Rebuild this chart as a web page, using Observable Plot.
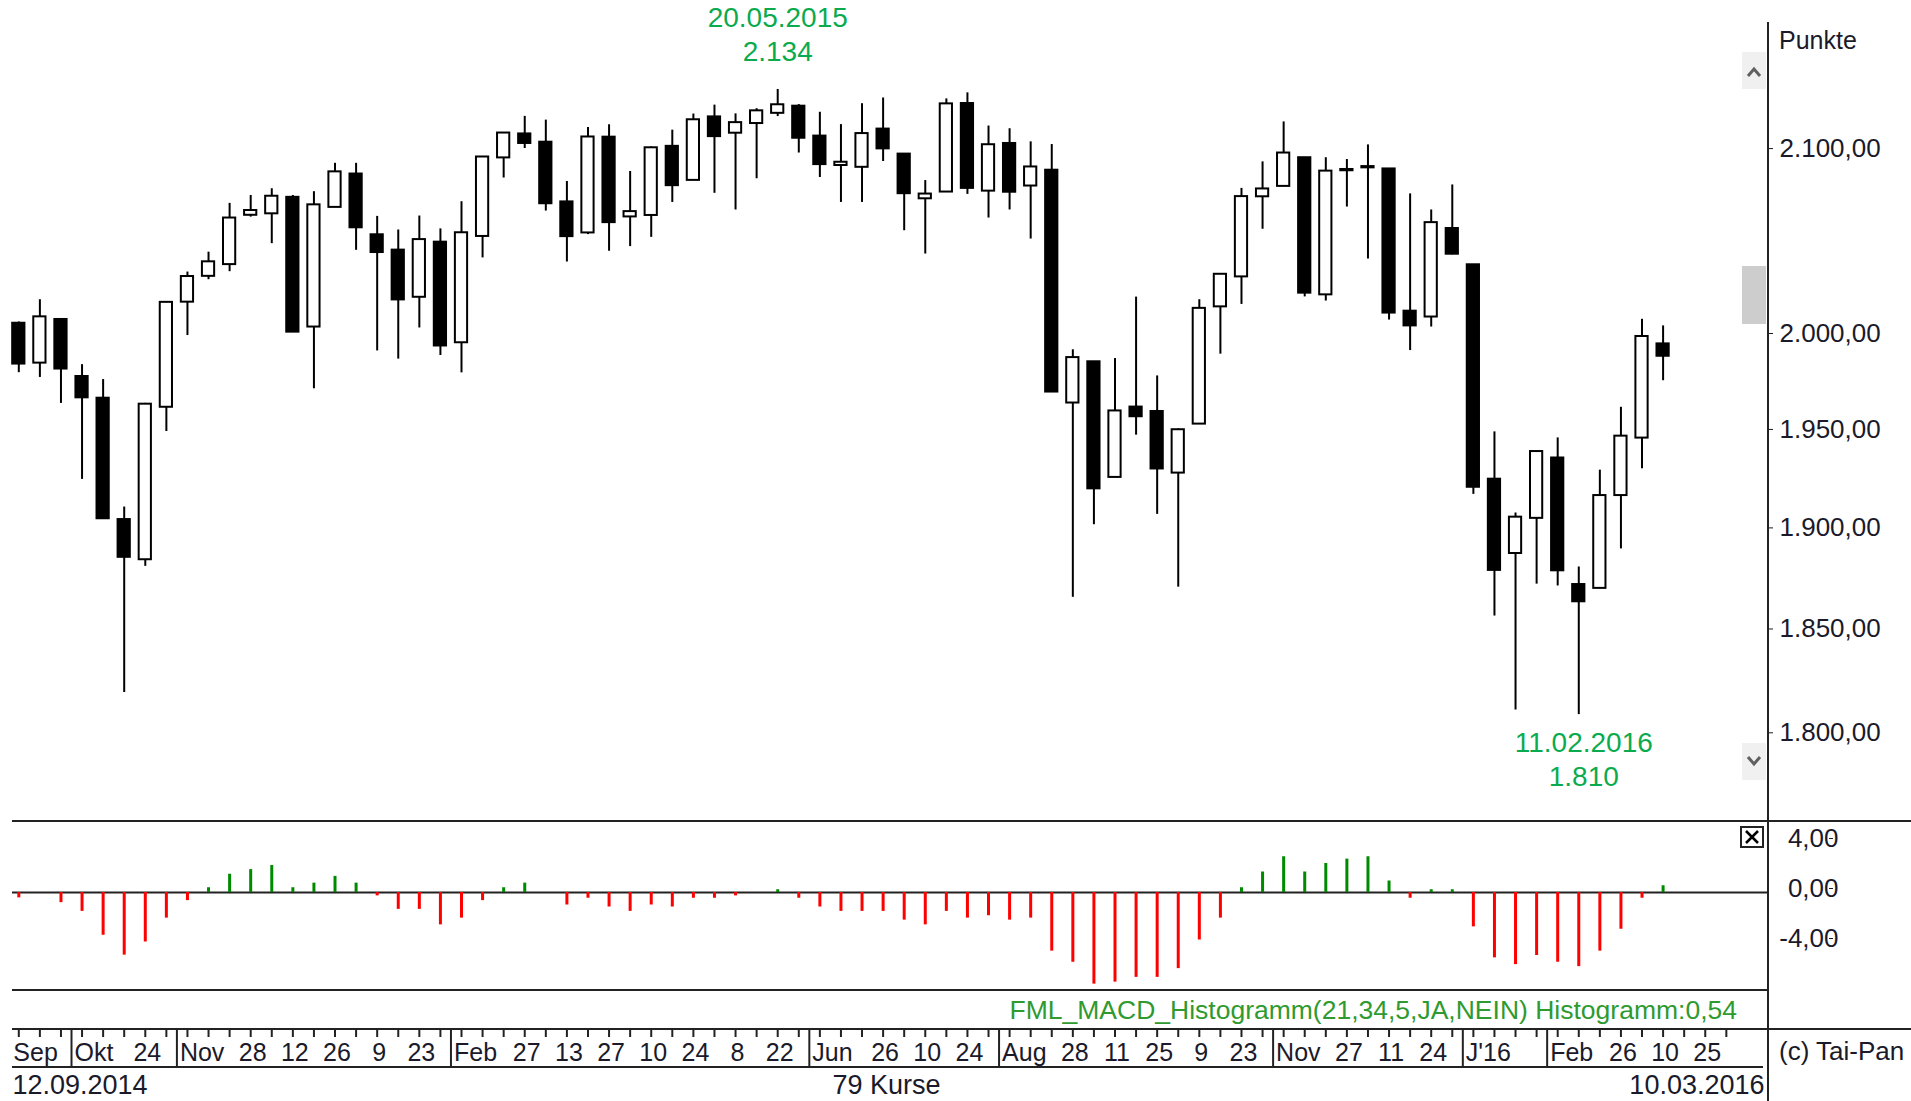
<!DOCTYPE html>
<html><head><meta charset="utf-8">
<script src="https://cdn.jsdelivr.net/npm/d3@7"></script>
<script src="https://cdn.jsdelivr.net/npm/@observablehq/plot@0.6"></script>
<style>
html,body{margin:0;padding:0;background:#fff;}
#root{position:relative;width:1911px;height:1101px;overflow:hidden;background:#fff;font-family:"Liberation Sans",Arial,sans-serif;}
#root > div{position:absolute;left:0;}
#root svg{display:block;overflow:visible;}
</style></head><body><div id="root"></div>
<script>
// ---- weekly candles (S&P style index), 12.09.2014 .. 10.03.2016 ----
const openP = [2007,1986,2009,1979,1967.7,1905.7,1885.6,1963,2018.2,2032,
  2038.3,2065,2065.8,2074.8,2005,2069.3,2087.6,2054.4,2046.1,2020.8,
  2050.4,1996.7,2053.5,2096.5,2109.8,2105.2,2072.3,2055.4,2108,2064.1,
  2064.9,2102.9,2084.1,2119.3,2110.2,2115.6,2121.3,2125.3,2108.6,2092.3,
  2091.3,2112.5,2098.6,2074,2077.7,2126.8,2078.2,2104.5,2081,2089.7,
  1965.2,1986.7,1927,1963.1,1960.8,1929.2,1954.3,2015.7,2031.7,2075.1,
  2080.8,2096.6,2022.1,2089.4,2091,2090.4,2013.4,2010.3,2057.8,2038.2,
  1926.1,1888.7,1906.3,1936.9,1873.3,1871.4,1917.8,1947.1,1996.1];
const highP = [2007.7,2019.5,2009.5,1985.2,1977.4,1912,1965,2018.2,2034.3,2045,
  2071.5,2075.8,2079.5,2075.8,2077.9,2093.5,2093.5,2064.4,2057,2064.6,
  2057.6,2072.4,2097,2110.6,2119.6,2117.5,2083.5,2113.4,2114.9,2089,
  2102.6,2111.9,2120.9,2125.9,2121,2123.9,2134.7,2126.2,2121.9,2115,
  2126.7,2129.9,2098.6,2084,2129.4,2132.8,2114.2,2112.7,2105.4,2103.9,
  1993,1986.7,1988.4,2020.9,1979.3,1951.8,2019.5,2033.5,2079.7,2094.3,
  2116.5,2096.6,2096.6,2095.6,2103.7,2090.4,2076.7,2067.9,2081.6,2038.2,
  1950.3,1909,1940.2,1947.2,1882,1930.7,1963,2009.1,2005.6];
const lowP = [1981,1978.5,1965,1926,1906,1820.7,1882.3,1950.5,2000.5,2030.2,
  2034.5,2064,2049.6,2002.3,1972.6,2069.3,2046,1992.4,1988.1,2004.5,
  1990,1980.9,2041.9,2085.4,2101.7,2067.3,2039.7,2054.5,2045.5,2048,
  2053,2072,2084,2077,2067.9,2085,2119.5,2099.2,2085.7,2072,
  2072,2094.5,2056.6,2044,2077.7,2076.4,2063.5,2067.9,2052.1,1970.9,
  1867,1903.1,1927,1948.6,1908.3,1872,1954.3,1990.7,2017,2057.4,
  2080.8,2021,2018.8,2069.5,2041.3,2008.7,1992.6,2005,2043.6,1918.4,
  1857.8,1812.3,1873.5,1872.6,1810.1,1871.4,1891,1931.4,1976.8];
const closeP = [1985.5,2010.4,1982.9,1967.9,1906.1,1886.8,1964.6,2018.1,2031.9,2039.8,
  2063.5,2067.6,2075.4,2002.3,2070.7,2088.8,2058.2,2044.8,2019.4,2051.8,
  1995,2055.5,2097,2110.3,2104.5,2071.3,2053.4,2108.1,2061,2067,
  2102.1,2081.2,2117.7,2108.3,2116.1,2122.7,2126.1,2107.4,2092.8,2094.1,
  2110,2101.5,2076.8,2076.6,2126.6,2079.7,2103.8,2077.6,2091.5,1970.9,
  1988.9,1921.2,1961.1,1958.1,1931.3,1951.4,2014.9,2033.1,2075.2,2079.4,
  2099.2,2023,2089.2,2090.1,2091.7,2012.4,2005.6,2061,2043.9,1922,
  1880.3,1906.9,1940.2,1880.1,1864.8,1917.8,1948.1,2000,1989.6];
// ---- MACD histogram (21,34,5) ----
const macdHist = [-0.43,0,-0.81,-1.51,-3.42,-5.01,-3.96,-2.05,-0.65,0.38,
  1.46,1.83,2.16,0.38,0.75,1.29,0.75,-0.27,-1.35,-1.35,
  -2.59,-2.05,-0.65,0.38,0.75,0,-1.0,-0.46,-1.16,-1.51,
  -1.0,-1.16,-0.46,-0.46,-0.27,0,0.22,-0.46,-1.16,-1.51,
  -1.51,-1.51,-2.21,-2.59,-1.51,-2.05,-1.86,-2.21,-2.05,-4.69,
  -5.58,-7.33,-7.17,-6.79,-6.79,-6.09,-3.80,-2.05,0.38,1.64,
  2.86,1.64,2.32,2.67,2.86,0.92,-0.46,0.22,0.22,-2.75,
  -5.23,-5.77,-5.04,-5.58,-5.93,-4.69,-2.94,-0.46,0.54];
// ---- axis ticks & labels ----
const priceTicks = [2100, 2000, 1950, 1900, 1850, 1800];
const macdTicks = [4, 0, -4];
const weekTicks = d3.range(0, 82);
const dayIdx = [6,11,13,15,17,19,24,26,28,30,32,34,36,41,43,45,50,52,54,56,58,63,65,67,76,78,80];
const dayText = ["24","28","12","26","9","23","27","13","27","10","24","8","22","26","10","24","28","11","25","9","23","27","11","24","26","10","25"];
const monthIdx = [-0.4,2.5,7.5,20.5,37.5,46.5,59.5,68.5,72.5];
const monthText = ["Sep","Okt","Nov","Feb","Jun","Aug","Nov","J'16","Feb"];
const firstDate = "12.09.2014", lastDate = "10.03.2016";
const extremeIdx = [36, 74];
const extremeDate = ["20.05.2015", "11.02.2016"];
const extremeText = ["2.134", "1.810"];

// ---- build ----
const FONT = "Liberation Sans, Arial, sans-serif";
const TXT = "#1a1a2a";
const GREEN_ANN = "#0aab4e";
const de = d3.formatLocale({decimal: ",", thousands: ".", grouping: [3], currency: ["", ""], minus: "-"});
const fmtPrice = de.format(",.2f");
const fmtMacd = de.format(".2f");
const xDomain = [-0.299, 83.0];
const W = 1911, ML = 12, MR = 143;

const candles = openP.map((o, i) => ({i, o, h: highP[i], l: lowP[i], c: closeP[i]}));
const hist = macdHist.map((v, i) => ({i, v}));
const root = document.getElementById("root");
function place(node, top) { const d = document.createElement("div"); d.style.top = top + "px"; d.appendChild(node); root.appendChild(d); }

const pricePlot = Plot.plot({
  width: W, height: 822, marginLeft: ML, marginRight: MR, marginTop: 0, marginBottom: 0,
  x: {type: "linear", domain: xDomain, axis: null},
  y: {type: "log", domain: [1759.3, 2185.4]},
  color: {type: "identity"},
  style: {fontFamily: FONT, fontSize: "26px", color: TXT, background: "transparent", overflow: "visible"},
  marks: [
    Plot.ruleX(candles, {x: "i", y1: "l", y2: "h", stroke: "#000", strokeWidth: 2}),
    Plot.rect(candles, {x1: d => d.i - 0.29, x2: d => d.i + 0.29, y1: "o", y2: "c",
      fill: d => d.c < d.o ? "#000" : "#fff", stroke: "#000", strokeWidth: 2}),
    Plot.axisY({anchor: "right", ticks: priceTicks, tickFormat: fmtPrice, tickSize: 4, tickPadding: 7,
      textAnchor: "start", dy: -3, label: null, fontSize: 26, stroke: TXT}),
    Plot.text([0], {x: () => extremeIdx[0], y: () => highP[extremeIdx[0]], text: () => extremeDate[0], dy: -71, fill: GREEN_ANN, fontSize: 28}),
    Plot.text([0], {x: () => extremeIdx[0], y: () => highP[extremeIdx[0]], text: () => extremeText[0], dy: -37, fill: GREEN_ANN, fontSize: 28}),
    Plot.text([0], {x: () => extremeIdx[1], y: () => lowP[extremeIdx[1]], text: () => extremeDate[1], dy: 28, dx: 5, fill: GREEN_ANN, fontSize: 28}),
    Plot.text([0], {x: () => extremeIdx[1], y: () => lowP[extremeIdx[1]], text: () => extremeText[1], dy: 62, dx: 5, fill: GREEN_ANN, fontSize: 28})
  ]
});
place(pricePlot, 0);

const macdPlot = Plot.plot({
  width: W, height: 169, marginLeft: ML, marginRight: MR, marginTop: 0, marginBottom: 0,
  x: {type: "linear", domain: xDomain, axis: null},
  y: {domain: [-7.84, 5.68]},
  color: {type: "identity"},
  style: {fontFamily: FONT, fontSize: "26px", color: TXT, background: "transparent", overflow: "visible"},
  marks: [
    Plot.ruleY([0], {stroke: "#222", strokeWidth: 2}),
    Plot.ruleX(hist, {x: "i", y1: 0, y2: "v", stroke: d => d.v >= 0 ? "#008a00" : "#ff0000", strokeWidth: 3}),
    Plot.axisY({anchor: "right", ticks: macdTicks, tickFormat: fmtMacd, tickSize: 4, tickPadding: 6,
      textAnchor: "end", dx: 60, dy: -4, label: null, fontSize: 26})
  ]
});
place(macdPlot, 821);

const datePlot = Plot.plot({
  width: W, height: 72, marginLeft: ML, marginRight: MR, marginTop: 0, marginBottom: 34,
  x: {type: "linear", domain: xDomain, axis: null},
  y: {axis: null},
  style: {fontFamily: FONT, fontSize: "25px", color: TXT, background: "transparent", overflow: "visible"},
  marks: [
    Plot.ruleX(weekTicks, {x: d => d, insetBottom: 30, stroke: "#222", strokeWidth: 2}),
    Plot.ruleX(monthIdx.slice(1), {x: d => d, stroke: "#222", strokeWidth: 2}),
    Plot.text(dayIdx, {x: d => d, text: (d, k) => dayText[k], frameAnchor: "middle", dy: 4, dx: 2, fontSize: 25}),
    Plot.text(monthIdx, {x: d => d, text: (d, k) => monthText[k], frameAnchor: "middle", textAnchor: "start", dy: 4, dx: 3, fontSize: 25}),
    Plot.text([firstDate], {text: d => d, frameAnchor: "bottom-left", dy: 26, fontSize: 27}),
    Plot.text([`${candles.length} Kurse`], {text: d => d, frameAnchor: "bottom", dy: 26, dx: -4, fontSize: 27}),
    Plot.text([lastDate], {text: d => d, frameAnchor: "bottom-right", dy: 26, dx: -4, fontSize: 27})
  ]
});
place(datePlot, 1029);

// ---- window chrome: panel rules, scroll buttons, labels ----
const ov = d3.create("svg").attr("width", W).attr("height", 1101).style("position", "absolute").style("top", 0).style("left", 0);
const line = "#222";
[[1767, 22, 2, 1079], [12, 820, 1899, 2], [12, 989, 1756, 2], [12, 1028, 1899, 2], [12, 1066, 1751, 2]]
  .forEach(([x, y, w, h]) => ov.append("rect").attr("x", x).attr("y", y).attr("width", w).attr("height", h).attr("fill", line));
ov.append("rect").attr("x", 1742).attr("y", 52).attr("width", 24).attr("height", 37).attr("fill", "#f0f0f0");
ov.append("polyline").attr("points", "1748,76 1754,69 1760,76").attr("fill", "none").attr("stroke", "#606060").attr("stroke-width", 3);
ov.append("rect").attr("x", 1742).attr("y", 266).attr("width", 24).attr("height", 58).attr("fill", "#cdcdcd");
ov.append("rect").attr("x", 1742).attr("y", 743).attr("width", 24).attr("height", 37).attr("fill", "#f0f0f0");
ov.append("polyline").attr("points", "1748,757 1754,764 1760,757").attr("fill", "none").attr("stroke", "#606060").attr("stroke-width", 3);
ov.append("rect").attr("x", 1741).attr("y", 827).attr("width", 22).attr("height", 20).attr("fill", "#fff").attr("stroke", "#222").attr("stroke-width", 2);
ov.append("path").attr("d", "M1746,831 L1758,843 M1758,831 L1746,843").attr("stroke", "#000").attr("stroke-width", 2.5);
const t = (x, y, s, size, anchor, fill) => ov.append("text").attr("x", x).attr("y", y).attr("font-family", FONT)
  .attr("font-size", size).attr("text-anchor", anchor).attr("fill", fill).text(s);
t(1779, 49, "Punkte", 25, "start", TXT);
t(1779, 1060, "(c) Tai-Pan", 26, "start", TXT);
t(1737, 1019, `FML_MACD_Histogramm(21,34,5,JA,NEIN) Histogramm:${fmtMacd(macdHist[macdHist.length - 1])}`, 26.5, "end", "#2f9a2f");
root.appendChild(ov.node());
</script></body></html>
